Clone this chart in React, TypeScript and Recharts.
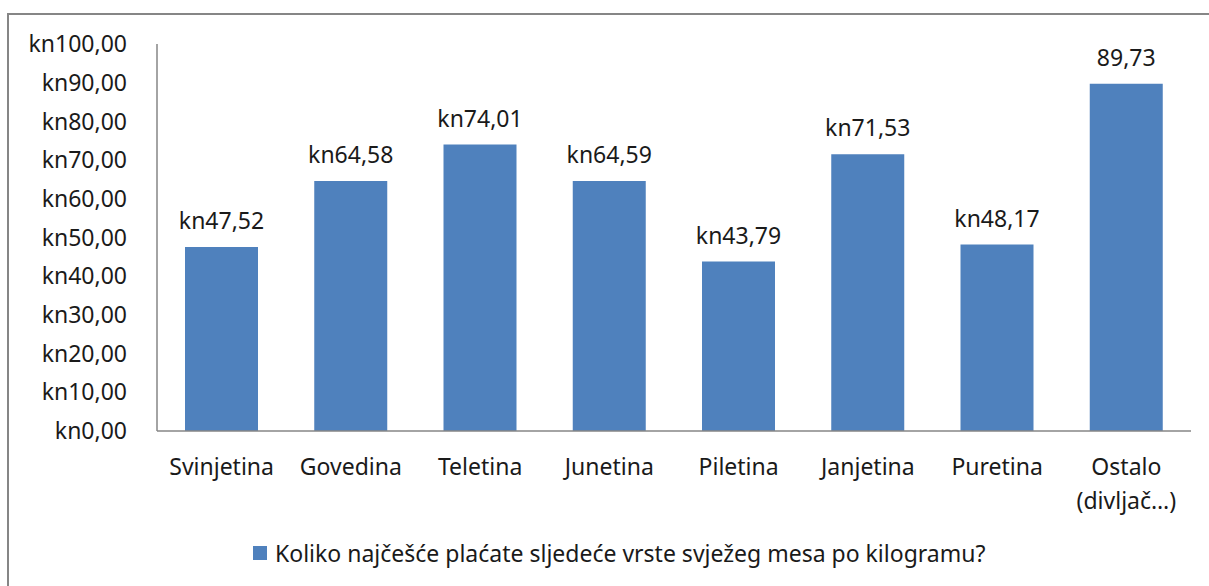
import React from 'react';
import { BarChart, Bar, XAxis, YAxis, Legend, LabelList } from 'recharts';

const categories = ['Svinjetina', 'Govedina', 'Teletina', 'Junetina', 'Piletina', 'Janjetina', 'Puretina', 'Ostalo\n(divljač…)'];
const prices = [47.52, 64.58, 74.01, 64.59, 43.79, 71.53, 48.17, 89.73];
const valueLabels = ['kn47,52', 'kn64,58', 'kn74,01', 'kn64,59', 'kn43,79', 'kn71,53', 'kn48,17', '89,73'];
const yTicks = [0, 10, 20, 30, 40, 50, 60, 70, 80, 90, 100];
const seriesName = 'Koliko najčešće plaćate sljedeće vrste svježeg mesa po kilogramu?';

const data = categories.map((c, i) => ({ name: c, price: prices[i], label: valueLabels[i] }));

const FONT = '"Noto Sans", sans-serif';
const TEXT = '#1a1a1a';
const BLUE = '#4F81BD';
const AXIS = '#868686';

const fmtKn = (v: number) => 'kn' + v.toFixed(2).replace('.', ',');

function CatTick(props: any) {
    const { x, y, payload } = props;
    const lines = String(payload.value).split('\n');
    return (
        <text x={x} y={y} textAnchor="middle" fill={TEXT} fontSize={23} fontFamily={FONT}>
            {lines.map((l, i) => (
                <tspan key={i} x={x} dy={i === 0 ? 36 : 34}>{l}</tspan>
            ))}
        </text>
    );
}

function LegendBox() {
    return (
        <div style={{ display: 'flex', alignItems: 'center', paddingLeft: 253, height: 40, fontFamily: FONT, fontSize: 23, color: TEXT }}>
            <span style={{ width: 14, height: 14, background: BLUE, marginRight: 8, display: 'inline-block' }} />
            <span>{seriesName}</span>
        </div>
    );
}

export default function App() {
    return (
        <div style={{ position: 'fixed', left: 0, top: 0, width: 1209, height: 586, overflow: 'hidden', background: '#fff' }}>
            <div style={{ position: 'absolute', left: 7, top: 13, width: 1240, height: 620, border: '2px solid #868686', boxSizing: 'border-box' }} />
            <div style={{ position: 'absolute', left: 0, top: 0 }}>
                <BarChart width={1209} height={586} data={data} margin={{ top: 44, right: 18, bottom: 13, left: 0 }}>
                    <XAxis
                        dataKey="name"
                        interval={0}
                        tick={<CatTick />}
                        tickLine={false}
                        axisLine={{ stroke: AXIS, strokeWidth: 1.5 }}
                        height={102}
                    />
                    <YAxis
                        domain={[0, 100]}
                        ticks={yTicks}
                        tickFormatter={fmtKn}
                        width={157}
                        tickLine={false}
                        axisLine={{ stroke: AXIS, strokeWidth: 1.5 }}
                        tick={{ fill: TEXT, fontSize: 23, fontFamily: FONT, dx: -22 }}
                    />
                    <Legend verticalAlign="bottom" height={40} content={<LegendBox />} />
                    <Bar dataKey="price" name={seriesName} fill={BLUE} barSize={73} isAnimationActive={false}>
                        <LabelList dataKey="label" position="top" offset={18} fill={TEXT} fontSize={23} fontFamily={FONT} />
                    </Bar>
                </BarChart>
            </div>
        </div>
    );
}
